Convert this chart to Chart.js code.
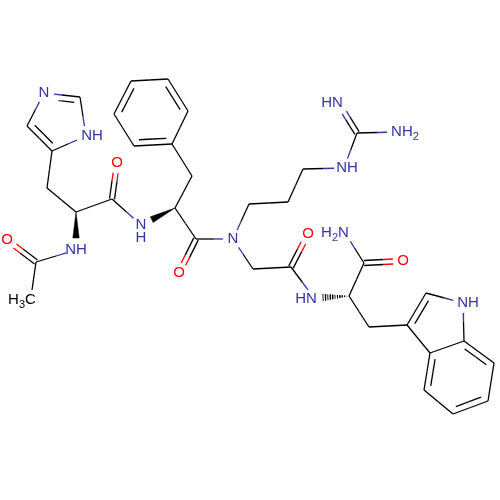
<!DOCTYPE html>
<html>
<head>
<meta charset="utf-8">
<script src="https://cdn.jsdelivr.net/npm/chart.js@4"></script>
<style>
html,body{margin:0;background:#fff}
canvas{display:block}
</style>
</head>
<body>
<canvas id="chart" width="500" height="500"></canvas>
<script>
// atoms
const atomX=[44,80,86,52,27,47,76,112,117,141,76,36,7,32,175,192,172,134,114,131,168,188,196,179,233,249,288,303,344,357,397,339,253,291,308,314,349,364,345,403,369,407,426,463,464,430,424,453,488,494];
const atomY=[93,97,136,151,126,188,212,199,163,225,250,262,240,290,208,176,144,146,114,81,79,111,239,273,239,204,202,169,168,133,132,104,269,267,234,298,296,263,233,261,327,325,293,303,341,353,390,414,401,363];
const atomEl="NCNCCCCCONNCOCCCCCCCCCCONCCCNCNNCCONCCNOCCCNCCCCCC".split("");

// bonds, order 3 = ring double bond (drawn clockwise, inner line on the ring side)
const bondA=[0,1,2,3,4,3,5,6,7,7,10,11,11,14,15,16,17,18,19,20,21,14,22,22,24,25,26,27,28,29,29,24,32,33,33,36,37,37,36,40,41,42,43,41,44,44,49,48,47,46];
const bondB=[1,2,3,4,0,5,6,7,8,9,11,12,13,15,16,17,18,19,20,21,16,22,23,24,25,26,27,28,29,30,31,32,33,34,35,37,38,39,40,41,42,43,44,45,45,49,48,47,46,45];
const bondOrder=[3,1,1,3,1,1,1,1,2,1,1,2,1,1,1,3,1,3,1,3,1,1,2,1,1,1,1,1,1,1,2,1,1,2,1,1,1,2,1,1,3,1,1,1,1,3,1,3,1,3];

const wedgeFrom=[6,14];
const wedgeTo=[10,9];
const hashFrom=[36];
const hashTo=[35];

const labelText=["N","NH","O","N","H","NH","O","H3C","O","N","NH","NH2","HN","O","HN","H2N","O","NH"];
const labelX=[44,92,117,141,141,76,7,22,179,233,347,405,332,308,306,335,403,468];
const labelY=[93,136,163,225,238,250,240,300,273,239,168,132,103,234,299,233,261,303];
const labelEl=["N","N","O","N","N","N","O","C","O","N","N","N","N","O","N","N","O","N"];

const colors={C:"#000000",N:"#3333aa",O:"#ff0000"};
const lw=1.3;
let ds=[];

function seg(x1,y1,x2,y2,c,w){
 ds.push({data:[{x:x1,y:y1},{x:x2,y:y2}],borderColor:c,borderWidth:w||lw,showLine:true,pointRadius:0,fill:false});
}

// half coloured line, trimmed where it meets a label
function halves(x1,y1,x2,y2,e1,e2){
 let l=Math.hypot(x2-x1,y2-y1),ux=(x2-x1)/l,uy=(y2-y1)/l;
 let mx=(x1+x2)/2,my=(y1+y2)/2;
 let t1=e1=="C"?0:10,t2=e2=="C"?0:10;
 seg(x1+ux*t1,y1+uy*t1,mx,my,colors[e1]);
 seg(mx,my,x2-ux*t2,y2-uy*t2,colors[e2]);
}

for(let i=0;i<bondA.length;i++){
 let a=bondA[i],b=bondB[i];
 let x1=atomX[a],y1=atomY[a],x2=atomX[b],y2=atomY[b];
 let l=Math.hypot(x2-x1,y2-y1),ux=(x2-x1)/l,uy=(y2-y1)/l,nx=-uy,ny=ux;
 if(bondOrder[i]==1) halves(x1,y1,x2,y2,atomEl[a],atomEl[b]);
 if(bondOrder[i]==2){
  halves(x1+nx*2.5,y1+ny*2.5,x2+nx*2.5,y2+ny*2.5,atomEl[a],atomEl[b]);
  halves(x1-nx*2.5,y1-ny*2.5,x2-nx*2.5,y2-ny*2.5,atomEl[a],atomEl[b]);
 }
 if(bondOrder[i]==3){
  halves(x1,y1,x2,y2,atomEl[a],atomEl[b]);
  let s=l*.14;
  halves(x1+nx*6+ux*s,y1+ny*6+uy*s,x2+nx*6-ux*s,y2+ny*6-uy*s,atomEl[a],atomEl[b]);
 }
}

// solid wedges
wedgeFrom.forEach((a,i)=>{
 let b=wedgeTo[i],x1=atomX[a],y1=atomY[a],x2=atomX[b],y2=atomY[b];
 let l=Math.hypot(x2-x1,y2-y1),ux=(x2-x1)/l,uy=(y2-y1)/l,nx=-uy,ny=ux;
 let ex=x2-ux*12,ey=y2-uy*12;
 ds.push({data:[{x:x1,y:y1},{x:ex+nx*3.2,y:ey+ny*3.2},{x:ex-nx*3.2,y:ey-ny*3.2},{x:x1,y:y1}],
  borderColor:"#000",borderWidth:.5,backgroundColor:"#000",showLine:true,pointRadius:0,fill:"shape"});
});

// hashed wedge
hashFrom.forEach((a,i)=>{
 let b=hashTo[i],x1=atomX[a],y1=atomY[a],x2=atomX[b],y2=atomY[b];
 let l=Math.hypot(x2-x1,y2-y1),ux=(x2-x1)/l,uy=(y2-y1)/l,nx=-uy,ny=ux;
 let L=l-9;
 for(let d=2;d<=L;d+=2.4){
  let w=3.6*d/L,px=x1+ux*d,py=y1+uy*d;
  seg(px+nx*w,py+ny*w,px-nx*w,py-ny*w,"#000",.9);
 }
});

const labels={
 id:"labels",
 afterDatasetsDraw(c){
  let g=c.ctx,sx=c.scales.x,sy=c.scales.y;
  g.save();
  g.textBaseline="middle";g.textAlign="left";
  labelText.forEach((t,i)=>{
   let parts=t.match(/[A-Z]+|\d/g),w=0;
   parts.forEach(p=>{g.font=(/\d/.test(p)?"11px":"15px")+" 'Liberation Sans'";w+=g.measureText(p).width});
   let x=sx.getPixelForValue(labelX[i])-w/2,y=sy.getPixelForValue(labelY[i]);
   g.fillStyle=colors[labelEl[i]];
   parts.forEach(p=>{
    let sub=/\d/.test(p);
    g.font=(sub?"11px":"15px")+" 'Liberation Sans'";
    g.fillText(p,x,sub?y+5:y);
    x+=g.measureText(p).width;
   });
  });
  g.restore();
 }
};

new Chart(document.getElementById("chart"),{
 type:"scatter",
 data:{datasets:ds},
 options:{
  responsive:false,animation:false,
  layout:{padding:0},
  plugins:{legend:{display:false},tooltip:{enabled:false}},
  scales:{
   x:{type:"linear",min:0,max:500,display:false},
   y:{type:"linear",min:0,max:500,reverse:true,display:false}
  }
 },
 plugins:[labels]
});
</script>
</body>
</html>
